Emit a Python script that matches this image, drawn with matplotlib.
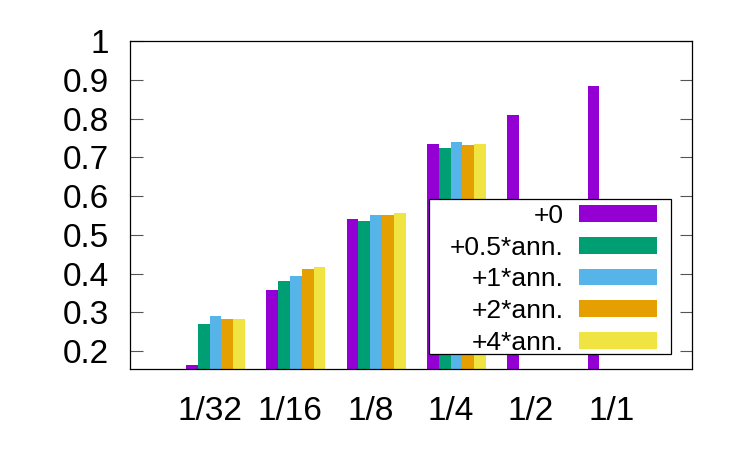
import numpy as np
import matplotlib
matplotlib.use('Agg')
import matplotlib.pyplot as plt
from matplotlib.patches import Rectangle

# data
groups = ['1/32', '1/16', '1/8', '1/4', '1/2', '1/1']
series = ['+0', '+0.5*ann.', '+1*ann.', '+2*ann.', '+4*ann.']
v_plus0 = [0.164, 0.357, 0.541, 0.735, 0.808, 0.883]
v_half = [0.269, 0.382, 0.535, 0.724, np.nan, np.nan]
v_one = [0.290, 0.393, 0.552, 0.740, np.nan, np.nan]
v_two = [0.284, 0.413, 0.552, 0.731, np.nan, np.nan]
v_four = [0.284, 0.418, 0.557, 0.734, np.nan, np.nan]
colors = ['#9400D3', '#009E73', '#56B4E9', '#E69F00', '#F0E442']

plt.rcParams['font.family'] = ['Liberation Sans', 'DejaVu Sans']

W, H = 750, 450
fig = plt.figure(figsize=(7.5, 4.5), dpi=100)
ax = fig.add_axes([130 / W, 1 - 369.3 / H, (691.7 - 130) / W, (369.3 - 41) / H])

x = np.arange(len(groups))
w = 0.147
for k, (vals, name) in enumerate(zip([v_plus0, v_half, v_one, v_two, v_four], series)):
    ax.bar(x + (k - 2) * w, vals, width=w, color=colors[k], label=name, linewidth=0)

ax.set_xlim(-1.065, 5.93)
ax.set_ylim(0.153, 1.0)
ax.set_yticks(np.arange(0.2, 1.01, 0.1))
ax.set_yticklabels(['0.2', '0.3', '0.4', '0.5', '0.6', '0.7', '0.8', '0.9', '1'])
ax.set_xticks(x - 0.07)
ax.set_xticklabels(groups)
ax.tick_params(axis='y', direction='in', length=9, width=0.8, color='#555555',
               labelsize=24, pad=15, right=True)
ax.tick_params(axis='x', length=0, labelsize=24, pad=19)
for s in ax.spines.values():
    s.set_linewidth(0.9)

# legend box (gnuplot style, drawn separately so the padding can match)
box = Rectangle((429 / W, 1 - 354 / H), (671 - 429) / W, (354 - 199.3) / H,
                transform=fig.transFigure, facecolor='white', edgecolor='black',
                linewidth=0.9, zorder=4, clip_on=False)
ax.add_patch(box)

leg = ax.legend(loc='upper right', bbox_to_anchor=(657 / W, 1 - 204 / H),
                bbox_transform=fig.transFigure, fontsize=19, markerfirst=False,
                handlelength=2.95, handleheight=0.6, handletextpad=0.6,
                labelspacing=0.29, borderpad=0, borderaxespad=0,
                frameon=False)
for t in leg.get_texts():
    t.set_ha('right')

fig.savefig('out.png', dpi=100)
